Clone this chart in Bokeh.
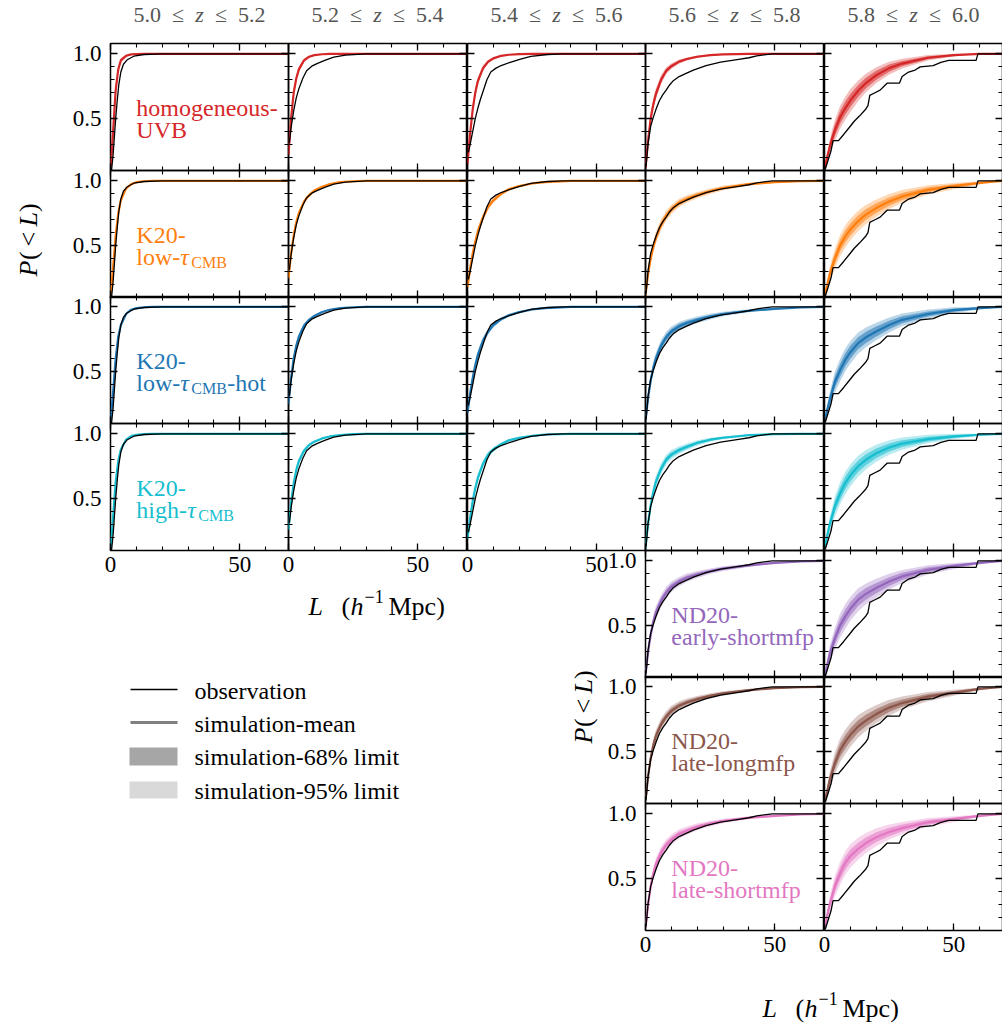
import numpy as np
from bokeh.plotting import figure
from bokeh.models import Range1d, FixedTicker, LinearAxis, Column, PrintfTickFormatter
from bokeh.core.properties import value
from bokeh.embed import file_html
from bokeh.resources import INLINE

# ------------------------------------------------------------------ data
Z_TITLES = [("5.0", "5.2"), ("5.2", "5.4"), ("5.4", "5.6"), ("5.6", "5.8"), ("5.8", "6.0")]
X_MAJOR = [0, 50]
X_MINOR = [0, 10, 20, 30, 40, 50, 60]
Y_MAJOR = [0.5, 1.0]
Y_MINOR = [0.1, 0.2, 0.3, 0.4, 0.5, 0.6, 0.7, 0.8, 0.9, 1.0]

# simulation L grid (h^-1 Mpc)
L_GRID = [0, 1, 2, 3, 4, 6, 8, 10, 13, 16, 20, 25, 30, 40, 50, 60, 69]

# observed CDFs, one per redshift bin
OBS_L_Z50 = [0.4, 1.0, 1.5, 2.0, 2.6, 3.2, 4.0, 5.0, 6.5, 9.0, 13.0, 20.0, 69.0]
OBS_P_Z50 = [0.10, 0.22, 0.36, 0.50, 0.64, 0.76, 0.86, 0.92, 0.955, 0.982, 0.995, 1.0, 1.0]
OBS_L_Z52 = [0.3, 1.0, 2.0, 3.0, 4.0, 5.5, 7.0, 9.0, 11.0, 14.0, 17.5, 22.0, 30.0, 69.0]
OBS_P_Z52 = [0.31, 0.43, 0.56, 0.66, 0.73, 0.81, 0.87, 0.905, 0.925, 0.95, 0.975, 0.99, 1.0, 1.0]
OBS_L_Z54 = [0.3, 1.0, 2.0, 3.0, 4.0, 5.0, 6.0, 7.5, 9.0, 11.0, 13.0, 16.5, 20.5, 24.5, 31.0, 37.0, 69.0]
OBS_P_Z54 = [0.24, 0.30, 0.40, 0.50, 0.58, 0.65, 0.71, 0.80, 0.86, 0.89, 0.91, 0.935, 0.96, 0.98, 0.995, 1.0, 1.0]
OBS_L_Z56 = [0.2, 1.0, 2.0, 3.0, 4.2, 5.4, 6.7, 8.0, 9.3, 10.6, 13.0, 15.7, 18.5, 23.4, 29.0, 36.0, 40.0, 43.0, 49.0, 69.0]
OBS_P_Z56 = [0.13, 0.31, 0.44, 0.51, 0.58, 0.64, 0.685, 0.72, 0.76, 0.79, 0.825, 0.85, 0.875, 0.91, 0.937, 0.958, 0.97, 0.985, 1.0, 1.0]
OBS_L_Z58 = [0.3, 2.5, 3.3, 5.4, 7.5, 9.5, 11.5, 13.5, 16.0, 16.8, 17.5, 19.5, 21.5, 23.5, 24.3, 29.0, 30.0, 32.5, 35.0, 37.0, 42.0, 45.0, 48.0, 58.6, 59.3, 69.0]
OBS_P_Z58 = [0.11, 0.25, 0.33, 0.33, 0.38, 0.43, 0.48, 0.52, 0.575, 0.60, 0.68, 0.70, 0.72, 0.76, 0.775, 0.775, 0.825, 0.86, 0.875, 0.90, 0.91, 0.935, 0.95, 0.95, 1.0, 1.0]

# homogeneous-UVB (columns z=5.0..6.0)
HOMOG_MEAN = [
    [0.10, 0.40, 0.72, 0.88, 0.95, 0.985, 0.996, 0.999, 1.0, 1.0, 1.0, 1.0, 1.0, 1.0, 1.0, 1.0, 1.0],
    [0.22, 0.50, 0.70, 0.81, 0.88, 0.95, 0.978, 0.99, 0.997, 1.0, 1.0, 1.0, 1.0, 1.0, 1.0, 1.0, 1.0],
    [0.15, 0.38, 0.57, 0.70, 0.79, 0.89, 0.94, 0.965, 0.985, 0.993, 0.998, 1.0, 1.0, 1.0, 1.0, 1.0, 1.0],
    [0.12, 0.33, 0.50, 0.61, 0.69, 0.80, 0.87, 0.905, 0.94, 0.96, 0.978, 0.99, 0.996, 1.0, 1.0, 1.0, 1.0],
    [0.11, 0.20, 0.28, 0.35, 0.41, 0.51, 0.58, 0.64, 0.715, 0.775, 0.835, 0.89, 0.925, 0.97, 0.99, 1.0, 1.0],
]
HOMOG_W68 = [
    [0, 0.02, 0.02, 0.015, 0.01, 0.005, 0.002, 0, 0, 0, 0, 0, 0, 0, 0, 0, 0],
    [0, 0.02, 0.02, 0.015, 0.012, 0.008, 0.005, 0.003, 0.001, 0, 0, 0, 0, 0, 0, 0, 0],
    [0, 0.02, 0.022, 0.02, 0.018, 0.012, 0.008, 0.006, 0.004, 0.002, 0.001, 0, 0, 0, 0, 0, 0],
    [0, 0.02, 0.025, 0.025, 0.025, 0.02, 0.015, 0.012, 0.009, 0.007, 0.005, 0.003, 0.002, 0, 0, 0, 0],
    [0, 0.02, 0.03, 0.04, 0.045, 0.05, 0.05, 0.05, 0.045, 0.04, 0.035, 0.028, 0.02, 0.012, 0.006, 0, 0],
]
HOMOG_W95 = [
    [0, 0.035, 0.035, 0.025, 0.018, 0.009, 0.004, 0.001, 0, 0, 0, 0, 0, 0, 0, 0, 0],
    [0, 0.035, 0.035, 0.028, 0.022, 0.014, 0.009, 0.005, 0.002, 0, 0, 0, 0, 0, 0, 0, 0],
    [0, 0.035, 0.04, 0.036, 0.032, 0.022, 0.015, 0.011, 0.007, 0.004, 0.002, 0, 0, 0, 0, 0, 0],
    [0, 0.035, 0.045, 0.045, 0.045, 0.036, 0.027, 0.022, 0.016, 0.012, 0.009, 0.005, 0.003, 0.001, 0, 0, 0],
    [0, 0.035, 0.055, 0.07, 0.08, 0.088, 0.09, 0.088, 0.08, 0.072, 0.062, 0.05, 0.038, 0.022, 0.011, 0, 0],
]

# K20-low-tauCMB
K20LOW_MEAN = [
    [0.10, 0.33, 0.58, 0.75, 0.85, 0.94, 0.975, 0.99, 0.997, 1.0, 1.0, 1.0, 1.0, 1.0, 1.0, 1.0, 1.0],
    [0.25, 0.44, 0.58, 0.68, 0.75, 0.84, 0.89, 0.925, 0.955, 0.975, 0.99, 0.997, 1.0, 1.0, 1.0, 1.0, 1.0],
    [0.18, 0.32, 0.44, 0.53, 0.61, 0.72, 0.80, 0.85, 0.90, 0.935, 0.96, 0.98, 0.99, 1.0, 1.0, 1.0, 1.0],
    [0.12, 0.28, 0.40, 0.49, 0.56, 0.66, 0.73, 0.78, 0.83, 0.86, 0.89, 0.92, 0.945, 0.975, 0.99, 0.998, 1.0],
    [0.11, 0.19, 0.28, 0.34, 0.40, 0.50, 0.57, 0.625, 0.69, 0.74, 0.79, 0.84, 0.88, 0.93, 0.96, 0.985, 1.0],
]
K20LOW_W68 = [
    [0, 0.015, 0.015, 0.012, 0.009, 0.005, 0.003, 0.001, 0, 0, 0, 0, 0, 0, 0, 0, 0],
    [0, 0.015, 0.016, 0.015, 0.014, 0.011, 0.008, 0.006, 0.004, 0.003, 0.002, 0.001, 0, 0, 0, 0, 0],
    [0, 0.015, 0.018, 0.018, 0.018, 0.016, 0.013, 0.011, 0.008, 0.006, 0.004, 0.003, 0.002, 0, 0, 0, 0],
    [0, 0.018, 0.022, 0.024, 0.025, 0.024, 0.022, 0.02, 0.018, 0.016, 0.014, 0.012, 0.01, 0.007, 0.004, 0.002, 0],
    [0, 0.02, 0.03, 0.038, 0.042, 0.046, 0.047, 0.046, 0.044, 0.041, 0.037, 0.032, 0.027, 0.02, 0.013, 0.007, 0],
]
K20LOW_W95 = [
    [0, 0.027, 0.027, 0.022, 0.016, 0.009, 0.005, 0.002, 0, 0, 0, 0, 0, 0, 0, 0, 0],
    [0, 0.027, 0.029, 0.027, 0.025, 0.02, 0.015, 0.011, 0.007, 0.005, 0.003, 0.002, 0, 0, 0, 0, 0],
    [0, 0.027, 0.032, 0.033, 0.033, 0.029, 0.024, 0.02, 0.015, 0.011, 0.008, 0.005, 0.003, 0.001, 0, 0, 0],
    [0, 0.032, 0.04, 0.043, 0.045, 0.043, 0.04, 0.036, 0.032, 0.029, 0.025, 0.021, 0.018, 0.012, 0.007, 0.003, 0],
    [0, 0.036, 0.054, 0.068, 0.076, 0.083, 0.085, 0.083, 0.079, 0.074, 0.067, 0.058, 0.049, 0.036, 0.024, 0.013, 0],
]

# K20-low-tauCMB-hot
K20HOT_MEAN = [
    [0.10, 0.34, 0.60, 0.77, 0.86, 0.945, 0.978, 0.99, 0.997, 1.0, 1.0, 1.0, 1.0, 1.0, 1.0, 1.0, 1.0],
    [0.25, 0.45, 0.60, 0.70, 0.77, 0.855, 0.90, 0.93, 0.96, 0.978, 0.99, 0.997, 1.0, 1.0, 1.0, 1.0, 1.0],
    [0.18, 0.33, 0.45, 0.55, 0.63, 0.74, 0.81, 0.86, 0.905, 0.935, 0.96, 0.98, 0.99, 1.0, 1.0, 1.0, 1.0],
    [0.12, 0.30, 0.43, 0.53, 0.60, 0.70, 0.765, 0.81, 0.85, 0.875, 0.90, 0.925, 0.945, 0.97, 0.985, 0.995, 1.0],
    [0.11, 0.20, 0.28, 0.35, 0.42, 0.51, 0.59, 0.65, 0.72, 0.765, 0.81, 0.86, 0.90, 0.945, 0.975, 0.99, 1.0],
]
K20HOT_W68 = [
    [0, 0.015, 0.015, 0.012, 0.009, 0.005, 0.003, 0.001, 0, 0, 0, 0, 0, 0, 0, 0, 0],
    [0, 0.015, 0.016, 0.015, 0.014, 0.011, 0.008, 0.006, 0.004, 0.003, 0.002, 0.001, 0, 0, 0, 0, 0],
    [0, 0.016, 0.019, 0.019, 0.018, 0.016, 0.013, 0.011, 0.008, 0.006, 0.004, 0.003, 0.002, 0, 0, 0, 0],
    [0, 0.02, 0.024, 0.026, 0.027, 0.026, 0.024, 0.022, 0.019, 0.017, 0.015, 0.012, 0.01, 0.007, 0.004, 0.002, 0],
    [0, 0.022, 0.033, 0.04, 0.045, 0.049, 0.05, 0.049, 0.046, 0.043, 0.038, 0.032, 0.027, 0.019, 0.012, 0.006, 0],
]
K20HOT_W95 = [
    [0, 0.027, 0.027, 0.022, 0.016, 0.009, 0.005, 0.002, 0, 0, 0, 0, 0, 0, 0, 0, 0],
    [0, 0.027, 0.029, 0.027, 0.025, 0.02, 0.015, 0.011, 0.007, 0.005, 0.003, 0.002, 0, 0, 0, 0, 0],
    [0, 0.029, 0.034, 0.034, 0.033, 0.029, 0.024, 0.02, 0.015, 0.011, 0.008, 0.005, 0.003, 0.001, 0, 0, 0],
    [0, 0.036, 0.043, 0.047, 0.048, 0.046, 0.043, 0.039, 0.034, 0.03, 0.026, 0.022, 0.018, 0.012, 0.007, 0.003, 0],
    [0, 0.04, 0.058, 0.072, 0.08, 0.087, 0.089, 0.087, 0.082, 0.076, 0.068, 0.058, 0.048, 0.034, 0.022, 0.011, 0],
]

# K20-high-tauCMB
K20HIGH_MEAN = [
    [0.10, 0.36, 0.63, 0.79, 0.88, 0.955, 0.983, 0.993, 0.998, 1.0, 1.0, 1.0, 1.0, 1.0, 1.0, 1.0, 1.0],
    [0.26, 0.47, 0.62, 0.72, 0.79, 0.87, 0.915, 0.94, 0.965, 0.98, 0.99, 0.998, 1.0, 1.0, 1.0, 1.0, 1.0],
    [0.19, 0.35, 0.48, 0.58, 0.66, 0.77, 0.84, 0.88, 0.92, 0.95, 0.97, 0.985, 0.995, 1.0, 1.0, 1.0, 1.0],
    [0.12, 0.31, 0.45, 0.55, 0.63, 0.73, 0.80, 0.84, 0.875, 0.90, 0.93, 0.955, 0.97, 0.99, 0.998, 1.0, 1.0],
    [0.11, 0.21, 0.30, 0.37, 0.44, 0.54, 0.62, 0.68, 0.75, 0.80, 0.85, 0.895, 0.925, 0.96, 0.98, 0.993, 1.0],
]
K20HIGH_W68 = [
    [0, 0.014, 0.014, 0.011, 0.008, 0.004, 0.002, 0.001, 0, 0, 0, 0, 0, 0, 0, 0, 0],
    [0, 0.015, 0.016, 0.014, 0.013, 0.01, 0.007, 0.005, 0.004, 0.003, 0.002, 0.001, 0, 0, 0, 0, 0],
    [0, 0.016, 0.018, 0.018, 0.017, 0.015, 0.012, 0.01, 0.007, 0.005, 0.004, 0.002, 0.001, 0, 0, 0, 0],
    [0, 0.02, 0.023, 0.025, 0.025, 0.024, 0.021, 0.019, 0.016, 0.014, 0.011, 0.008, 0.006, 0.003, 0.001, 0, 0],
    [0, 0.022, 0.032, 0.039, 0.044, 0.048, 0.049, 0.048, 0.045, 0.042, 0.037, 0.031, 0.026, 0.018, 0.011, 0.005, 0],
]
K20HIGH_W95 = [
    [0, 0.026, 0.026, 0.02, 0.015, 0.008, 0.004, 0.002, 0, 0, 0, 0, 0, 0, 0, 0, 0],
    [0, 0.027, 0.029, 0.026, 0.024, 0.019, 0.014, 0.01, 0.007, 0.005, 0.003, 0.002, 0, 0, 0, 0, 0],
    [0, 0.029, 0.033, 0.033, 0.032, 0.028, 0.023, 0.019, 0.014, 0.01, 0.007, 0.004, 0.002, 0, 0, 0, 0],
    [0, 0.036, 0.042, 0.045, 0.046, 0.044, 0.039, 0.035, 0.03, 0.026, 0.021, 0.016, 0.012, 0.006, 0.002, 0, 0],
    [0, 0.04, 0.058, 0.07, 0.079, 0.086, 0.088, 0.086, 0.081, 0.075, 0.066, 0.056, 0.047, 0.033, 0.02, 0.009, 0],
]

# ND20 models (columns z=5.6..5.8 and z=5.8..6.0 only)
ND20E_MEAN = [
    [0.12, 0.30, 0.43, 0.53, 0.60, 0.69, 0.755, 0.80, 0.84, 0.87, 0.895, 0.92, 0.94, 0.965, 0.985, 0.995, 1.0],
    [0.11, 0.19, 0.28, 0.34, 0.40, 0.50, 0.57, 0.63, 0.70, 0.745, 0.79, 0.84, 0.88, 0.93, 0.96, 0.985, 1.0],
]
ND20E_W68 = [
    [0, 0.02, 0.025, 0.027, 0.028, 0.027, 0.025, 0.023, 0.02, 0.018, 0.015, 0.012, 0.01, 0.007, 0.004, 0.002, 0],
    [0, 0.024, 0.035, 0.043, 0.048, 0.052, 0.053, 0.052, 0.049, 0.045, 0.04, 0.034, 0.028, 0.02, 0.013, 0.006, 0],
]
ND20E_W95 = [
    [0, 0.036, 0.045, 0.049, 0.05, 0.048, 0.045, 0.041, 0.036, 0.032, 0.027, 0.022, 0.018, 0.012, 0.007, 0.003, 0],
    [0, 0.043, 0.063, 0.077, 0.086, 0.093, 0.095, 0.093, 0.088, 0.081, 0.072, 0.061, 0.05, 0.036, 0.023, 0.011, 0],
]
ND20LL_MEAN = [
    [0.12, 0.31, 0.45, 0.55, 0.62, 0.71, 0.77, 0.815, 0.855, 0.88, 0.905, 0.93, 0.95, 0.975, 0.99, 0.998, 1.0],
    [0.11, 0.19, 0.28, 0.345, 0.41, 0.51, 0.575, 0.63, 0.695, 0.74, 0.79, 0.84, 0.875, 0.925, 0.955, 0.985, 1.0],
]
ND20LL_W68 = [
    [0, 0.02, 0.024, 0.026, 0.027, 0.026, 0.024, 0.022, 0.019, 0.017, 0.014, 0.011, 0.009, 0.006, 0.003, 0.001, 0],
    [0, 0.024, 0.035, 0.042, 0.047, 0.051, 0.052, 0.051, 0.048, 0.044, 0.039, 0.033, 0.028, 0.02, 0.013, 0.006, 0],
]
ND20LL_W95 = [
    [0, 0.036, 0.044, 0.047, 0.048, 0.046, 0.043, 0.039, 0.034, 0.03, 0.025, 0.02, 0.016, 0.011, 0.006, 0.002, 0],
    [0, 0.043, 0.062, 0.076, 0.085, 0.092, 0.094, 0.092, 0.087, 0.08, 0.071, 0.06, 0.05, 0.036, 0.023, 0.011, 0],
]
ND20LS_MEAN = [
    [0.12, 0.30, 0.44, 0.54, 0.61, 0.70, 0.76, 0.80, 0.845, 0.87, 0.90, 0.925, 0.945, 0.97, 0.985, 0.995, 1.0],
    [0.11, 0.21, 0.30, 0.37, 0.44, 0.54, 0.62, 0.675, 0.73, 0.775, 0.82, 0.86, 0.89, 0.935, 0.96, 0.985, 1.0],
]
ND20LS_W68 = [
    [0, 0.02, 0.025, 0.027, 0.028, 0.027, 0.025, 0.023, 0.02, 0.018, 0.015, 0.012, 0.01, 0.007, 0.004, 0.002, 0],
    [0, 0.024, 0.035, 0.042, 0.047, 0.05, 0.051, 0.05, 0.047, 0.043, 0.038, 0.032, 0.027, 0.019, 0.012, 0.006, 0],
]
ND20LS_W95 = [
    [0, 0.036, 0.045, 0.049, 0.05, 0.048, 0.045, 0.041, 0.036, 0.032, 0.027, 0.022, 0.018, 0.012, 0.007, 0.003, 0],
    [0, 0.043, 0.062, 0.075, 0.084, 0.09, 0.092, 0.09, 0.085, 0.078, 0.069, 0.058, 0.048, 0.034, 0.022, 0.011, 0],
]

OBS_L = [OBS_L_Z50, OBS_L_Z52, OBS_L_Z54, OBS_L_Z56, OBS_L_Z58]
OBS_P = [OBS_P_Z50, OBS_P_Z52, OBS_P_Z54, OBS_P_Z56, OBS_P_Z58]

# ------------------------------------------------------------------ style / layout
FONT = "Liberation Serif"
FW, FH = 178, 127
XMAX = 68.8
YMIN, YMAX = 0.10, 1.08
COL_X = [110, 288, 467, 645, 824]
ROW_Y = [43, 170, 296, 423, 550, 676, 803]
ML, MR, MT, MB = 60, 20, 20, 50

# (label line 1, line-2 pieces (text, style, size, dx, dy)), colour, data, columns
MODELS = [
    ("homogeneous-", [("UVB", "normal", 24, 0, 0)], "#d62728",
     HOMOG_MEAN, HOMOG_W68, HOMOG_W95, [0, 1, 2, 3, 4]),
    ("K20-", [("low-", "normal", 24, 0, 0), ("τ", "italic", 24, 44, 0), ("CMB", "normal", 16, 55, 5)], "#ff7f0e",
     K20LOW_MEAN, K20LOW_W68, K20LOW_W95, [0, 1, 2, 3, 4]),
    ("K20-", [("low-", "normal", 24, 0, 0), ("τ", "italic", 24, 44, 0), ("CMB", "normal", 16, 55, 5),
              ("-hot", "normal", 24, 91, 0)], "#1f77b4",
     K20HOT_MEAN, K20HOT_W68, K20HOT_W95, [0, 1, 2, 3, 4]),
    ("K20-", [("high-", "normal", 24, 0, 0), ("τ", "italic", 24, 51, 0), ("CMB", "normal", 16, 62, 5)], "#17becf",
     K20HIGH_MEAN, K20HIGH_W68, K20HIGH_W95, [0, 1, 2, 3, 4]),
    ("ND20-", [("early-shortmfp", "normal", 24, 0, 0)], "#9467bd",
     ND20E_MEAN, ND20E_W68, ND20E_W95, [3, 4]),
    ("ND20-", [("late-longmfp", "normal", 24, 0, 0)], "#8c564b",
     ND20LL_MEAN, ND20LL_W68, ND20LL_W95, [3, 4]),
    ("ND20-", [("late-shortmfp", "normal", 24, 0, 0)], "#e377c2",
     ND20LS_MEAN, ND20LS_W68, ND20LS_W95, [3, 4]),
]


def make_panel(ri, ci, show_x, show_y):
    p = figure(frame_width=FW, frame_height=FH,
               x_range=Range1d(0, XMAX), y_range=Range1d(YMIN, YMAX),
               toolbar_location=None, output_backend="svg",
               min_border_left=ML, min_border_right=MR,
               min_border_top=MT, min_border_bottom=MB)
    p.background_fill_color = None
    p.border_fill_color = None
    p.outline_line_color = "black"
    p.outline_line_width = 1.5
    p.xgrid.visible = False
    p.ygrid.visible = False
    p.add_layout(LinearAxis(), "above")
    p.add_layout(LinearAxis(), "right")
    for ax in p.xaxis:
        ax.ticker = FixedTicker(ticks=X_MAJOR, minor_ticks=X_MINOR)
    for ax in p.yaxis:
        ax.ticker = FixedTicker(ticks=Y_MAJOR, minor_ticks=Y_MINOR)
        ax.formatter = PrintfTickFormatter(format="%.1f")
    for ax in p.axis:
        ax.axis_line_color = None
        ax.major_tick_in = 7
        ax.major_tick_out = 0
        ax.minor_tick_in = 4
        ax.minor_tick_out = 0
        ax.major_tick_line_width = 1.3
        ax.minor_tick_line_width = 1.1
        ax.major_tick_line_color = "black"
        ax.minor_tick_line_color = "black"
        ax.major_label_text_font = FONT
        ax.major_label_text_font_size = "1px"
        ax.major_label_text_color = None
        ax.major_label_standoff = 0
    if show_x:
        ax = p.below[0]
        ax.major_label_text_font_size = "23px"
        ax.major_label_text_color = "black"
        ax.major_label_standoff = 6
    if show_y:
        ax = p.left[0]
        ax.major_label_text_font_size = "23px"
        ax.major_label_text_color = "black"
        ax.major_label_standoff = 9
    p.styles = {"position": "absolute",
                "left": f"{COL_X[ci] - ML}px", "top": f"{ROW_Y[ri] - MT}px"}
    return p


panels = []
for ri, (line1, line2, color, means, w68s, w95s, cols) in enumerate(MODELS):
    for k, ci in enumerate(cols):
        show_x = (ri == 3 and ci <= 2) or (ri == 6)
        show_y = (ci == 0) or (ci == 3 and ri >= 4)
        p = make_panel(ri, ci, show_x, show_y)
        m = np.array(means[k])
        w68 = np.array(w68s[k])
        w95 = np.array(w95s[k])
        p.varea(x=L_GRID, y1=np.maximum(m - w95, 0), y2=np.minimum(m + w95, 1.0),
                fill_color=color, fill_alpha=0.3)
        p.varea(x=L_GRID, y1=np.maximum(m - w68, 0), y2=np.minimum(m + w68, 1.0),
                fill_color=color, fill_alpha=0.55)
        p.line(L_GRID, means[k], line_color=color, line_width=2.2)
        p.line(OBS_L[ci], OBS_P[ci], line_color="black", line_width=1.3)
        if k == 0:
            p.text(x=[10.0], y=[0.585], text=[line1], text_font=value(FONT),
                   text_font_size="24px", text_color=color,
                   text_baseline="middle", text_align="left")
            for (t, style, size, dx, dy) in line2:
                p.text(x=[10.0], y=[0.41], text=[t], text_font=value(FONT),
                       text_font_size=f"{size}px", text_font_style=style,
                       text_color=color, text_baseline="middle", text_align="left",
                       x_offset=dx, y_offset=dy)
        panels.append(p)


def overlay(x0, y0, w, h):
    """Transparent text layer whose frame covers screen pixels [x0, x0+w] x [y0, y0+h];
    data units equal screen pixels.  The column aligns left/right plot borders to ML/MR."""
    f = figure(frame_width=w, frame_height=h,
               x_range=Range1d(x0, x0 + w), y_range=Range1d(y0 + h, y0),
               x_axis_type=None, y_axis_type=None, toolbar_location=None,
               output_backend="svg", min_border_left=ML, min_border_right=MR,
               min_border_top=0, min_border_bottom=0)
    f.outline_line_color = None
    f.background_fill_color = None
    f.border_fill_color = None
    f.title.visible = False
    f.styles = {"position": "absolute", "left": f"{x0 - ML}px", "top": f"{y0}px"}
    return f


cv = overlay(ML, 0, 1002 - ML - MR, 1024)      # titles, x labels, second y label, legend
yl = overlay(2, 180, 40, 120)                   # first y label (left edge of the page)

TXT = dict(text_font=value(FONT), text_color="black")

# column titles
for ci, (za, zb) in enumerate(Z_TITLES):
    cx = COL_X[ci] + FW / 2
    common = dict(text_font=value(FONT), text_font_size="22px", text_color="#555555",
                  text_baseline="middle")
    cv.text(x=[cx - 4.5], y=[14], text=[f"{za}\u2002≤\u2002"], text_align="right", **common)
    cv.text(x=[cx], y=[14], text=["z"], text_align="center", text_font_style="italic", **common)
    cv.text(x=[cx + 4.5], y=[14], text=[f"\u2002≤\u2002{zb}"], text_align="left", **common)


def ylabel(fig, xb, yc):
    start = yc + 36
    parts = [("P", "italic", 0), ("(", "normal", 16.5), ("<", "normal", 30), ("L", "italic", 50), (")", "normal", 64.5)]
    for t, st, off in parts:
        fig.text(x=[xb], y=[start - off], text=[t], angle=np.pi / 2, text_align="left",
                 text_baseline="alphabetic", text_font_size="26px", text_font_style=st, **TXT)


def xlabel(x0, yb):
    parts = [("L", "italic", 26, 0, 0), ("(", "normal", 26, 33, 0), ("h", "italic", 26, 42, 0),
             ("−1", "normal", 18, 56, -10), ("Mpc)", "normal", 26, 80, 0)]
    for t, st, size, dx, dy in parts:
        cv.text(x=[x0 + dx], y=[yb + dy], text=[t], text_align="left", text_baseline="alphabetic",
                text_font_size=f"{size}px", text_font_style=st, **TXT)


ylabel(yl, 28, 240)
ylabel(cv, 583, 707)
xlabel(308, 606)
xlabel(762, 1008)

# legend
cv.line([130, 177], [689, 689], line_color="black", line_width=1.4)
cv.line([130, 177], [722, 722], line_color="#808080", line_width=3)
cv.quad(left=[129], right=[177], top=[747], bottom=[765], fill_color="#a6a6a6", line_color=None)
cv.quad(left=[129], right=[177], top=[781], bottom=[798], fill_color="#d9d9d9", line_color=None)
for t, yy in [("observation", 690), ("simulation-mean", 723), ("simulation-68% limit", 756),
              ("simulation-95% limit", 790)]:
    cv.text(x=[194], y=[yy], text=[t], text_align="left", text_baseline="middle",
            text_font_size="24px", **TXT)

root = Column(children=[cv, yl] + panels, width=1002, height=1024,
              styles={"position": "relative", "overflow": "hidden"})

open("out.html", "w").write(file_html(root, INLINE))
